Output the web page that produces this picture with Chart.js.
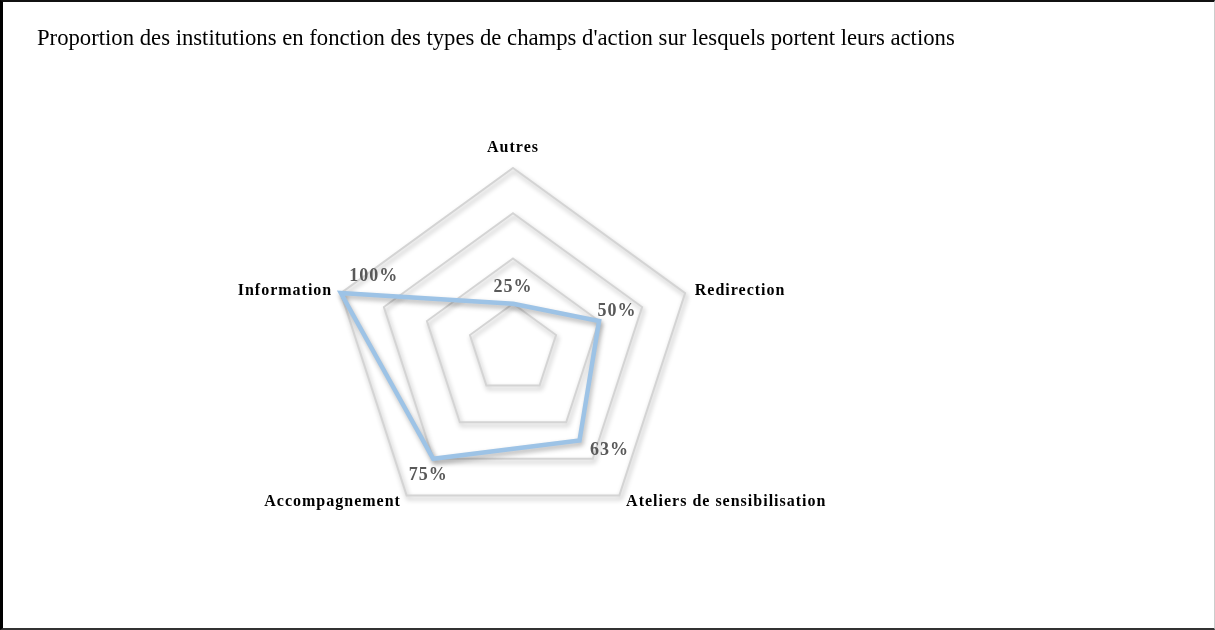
<!DOCTYPE html>
<html>
<head>
<meta charset="utf-8">
<script src="https://cdn.jsdelivr.net/npm/chart.js@4"></script>
<style>
  html, body { margin: 0; padding: 0; background: #fff; }
  #wrap { position: relative; width: 1215px; height: 630px; }
  #frame { position: absolute; left: 0; top: 0; width: 1215px; height: 630px; box-sizing: border-box;
           border-left: 3px solid #000; border-top: 2px solid #111; border-bottom: 2px solid #333; border-right: 1px solid #ccc; pointer-events: none; }
</style>
</head>
<body>
<div id="wrap">
  <canvas id="c" width="1215" height="630"></canvas>
  <div id="frame"></div>
</div>
<script>
const chartTitle = "Proportion des institutions en fonction des types de champs d'action sur lesquels portent leurs actions";
const categories = ["Autres", "Redirection", "Ateliers de sensibilisation", "Accompagnement", "Information"];
const proportions = [0.25, 0.5, 0.625, 0.75, 1.0];
const scaleMin = 0;
const scaleMax = 1;
const scaleStep = 0.25;

const serif = '"Liberation Serif", "Times New Roman", serif';

const decor = {
  id: 'decor',
  beforeDraw(chart) {
    const ctx = chart.ctx;
    ctx.shadowColor = 'rgba(0,0,0,0.3)';
    ctx.shadowBlur = 5;
    ctx.shadowOffsetX = 1.5;
    ctx.shadowOffsetY = 3;
  },
  afterDatasetsDraw(chart) {
    const ctx = chart.ctx;
    ctx.save();
    ctx.shadowColor = 'rgba(0,0,0,0)';
    ctx.shadowBlur = 0;
    ctx.shadowOffsetX = 0;
    ctx.shadowOffsetY = 0;
    const scale = chart.scales.r;
    // category labels
    ctx.font = 'bold 16px ' + serif;
    ctx.fillStyle = '#000';
    ctx.letterSpacing = '1px';
    ctx.textBaseline = 'middle';
    categories.forEach((lab, i) => {
      const p = scale.getPointPosition(i, scale.drawingArea + 8);
      let x = p.x, y = p.y;
      if (Math.abs(p.x - scale.xCenter) < 5) {
        ctx.textAlign = 'center';
        y = p.y - 12;
      } else if (p.x > scale.xCenter) {
        ctx.textAlign = 'left';
        x = p.x + 2;
      } else {
        ctx.textAlign = 'right';
        x = p.x - 1;
      }
      ctx.fillText(lab, x, y);
    });
    // value labels
    const offs = [[0, -16], [18, -10], [30, 10], [-5, 17], [33, -17]];
    ctx.font = 'bold 18px ' + serif;
    ctx.fillStyle = '#595959';
    ctx.letterSpacing = '1px';
    ctx.textAlign = 'center';
    const meta = chart.getDatasetMeta(0);
    meta.data.forEach((pt, i) => {
      const txt = Math.round(proportions[i] * 100) + '%';
      ctx.fillText(txt, pt.x + offs[i][0], pt.y + offs[i][1]);
    });
    // title
    ctx.letterSpacing = '0px';
    ctx.font = '22.7px ' + serif;
    ctx.fillStyle = '#000';
    ctx.textAlign = 'left';
    ctx.textBaseline = 'alphabetic';
    ctx.fillText(chartTitle, 37, 45);
    ctx.restore();
  }
};

new Chart(document.getElementById('c'), {
  type: 'radar',
  data: {
    labels: categories,
    datasets: [{
      data: proportions,
      borderColor: '#9dc3e6',
      borderWidth: 4.5,
      backgroundColor: 'rgba(0,0,0,0)',
      fill: false,
      pointRadius: 0,
      tension: 0
    }]
  },
  options: {
    responsive: false,
    animation: false,
    layout: { padding: { left: 332, right: 521, top: 168, bottom: 100 } },
    plugins: { legend: { display: false }, tooltip: { enabled: false }, title: { display: false } },
    scales: {
      r: {
        min: scaleMin,
        max: scaleMax,
        ticks: { display: false, stepSize: scaleStep },
        grid: { color: '#d4d4d4', lineWidth: 2 },
        angleLines: { display: false },
        pointLabels: { display: false }
      }
    }
  },
  plugins: [decor]
});
</script>
</body>
</html>
